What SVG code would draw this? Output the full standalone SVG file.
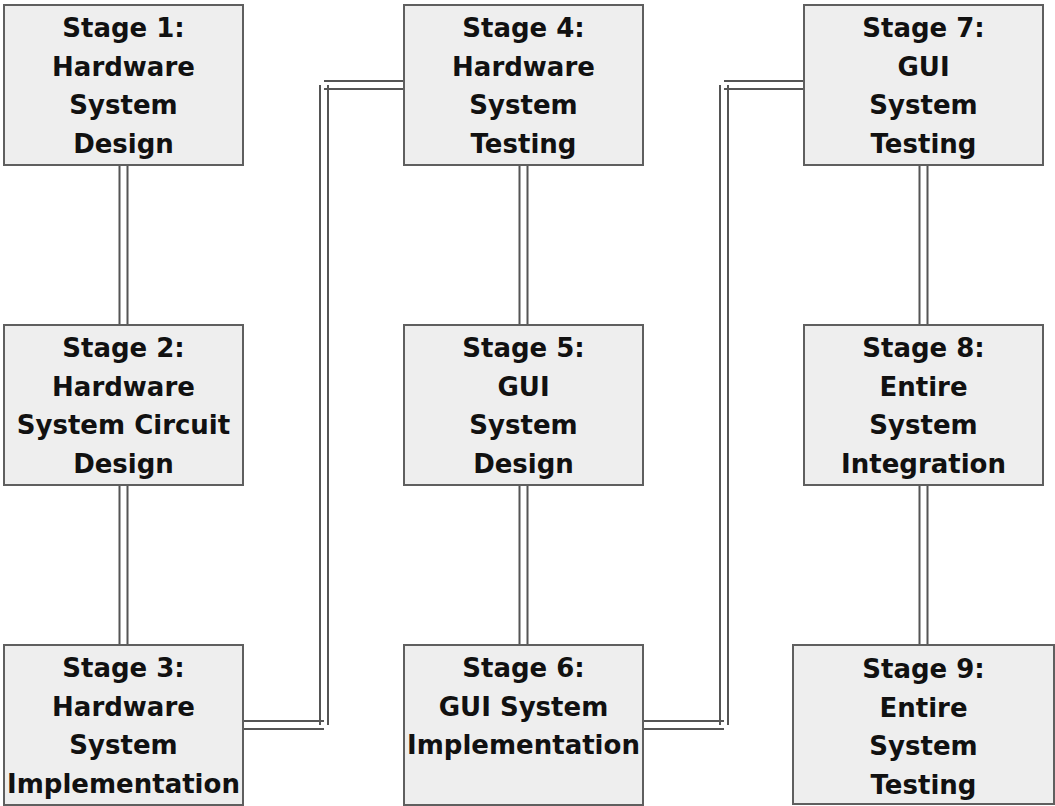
<svg xmlns="http://www.w3.org/2000/svg" width="1055" height="806" viewBox="0 0 1055 806">
<style>
.box{fill:#eeeeee;stroke:#5f5f5f;stroke-width:2}
.lbl{font-family:"DejaVu Sans",Verdana,sans-serif;font-weight:bold;font-size:26px;fill:#111111;text-anchor:middle}
.ln{stroke:#555555;stroke-width:2;fill:none}
</style>
<rect width="1055" height="806" fill="#ffffff"/>
<g id="connectors">
  <g id="c1-2"><path class="ln" d="M119.5,165V325M127.5,165V325"/></g>
  <g id="c2-3"><path class="ln" d="M119.5,485V645M127.5,485V645"/></g>
  <g id="c3-4"><path class="ln" d="M243,721H324M243,729H324M320,725V85M328,725V85M324,81H404M324,89H404"/></g>
  <g id="c4-5"><path class="ln" d="M519.5,165V325M527.5,165V325"/></g>
  <g id="c5-6"><path class="ln" d="M519.5,485V645M527.5,485V645"/></g>
  <g id="c6-7"><path class="ln" d="M643,721H724M643,729H724M720,725V85M728,725V85M724,81H804M724,89H804"/></g>
  <g id="c7-8"><path class="ln" d="M919.5,165V325M927.5,165V325"/></g>
  <g id="c8-9"><path class="ln" d="M919.5,485V645M927.5,485V645"/></g>
</g>
<g id="stage1"><rect class="box" x="4" y="5" width="239" height="160"/>
  <text class="lbl" x="123.5" y="37">Stage 1:</text><text class="lbl" x="123.5" y="76">Hardware</text><text class="lbl" x="123.5" y="114">System</text><text class="lbl" x="123.5" y="153">Design</text></g>
<g id="stage2"><rect class="box" x="4" y="325" width="239" height="160"/>
  <text class="lbl" x="123.5" y="357">Stage 2:</text><text class="lbl" x="123.5" y="396">Hardware</text><text class="lbl" x="123.5" y="434">System Circuit</text><text class="lbl" x="123.5" y="473">Design</text></g>
<g id="stage3"><rect class="box" x="4" y="645" width="239" height="160"/>
  <text class="lbl" x="123.5" y="677">Stage 3:</text><text class="lbl" x="123.5" y="716">Hardware</text><text class="lbl" x="123.5" y="754">System</text><text class="lbl" x="123.5" y="793">Implementation</text></g>
<g id="stage4"><rect class="box" x="404" y="5" width="239" height="160"/>
  <text class="lbl" x="523.5" y="37">Stage 4:</text><text class="lbl" x="523.5" y="76">Hardware</text><text class="lbl" x="523.5" y="114">System</text><text class="lbl" x="523.5" y="153">Testing</text></g>
<g id="stage5"><rect class="box" x="404" y="325" width="239" height="160"/>
  <text class="lbl" x="523.5" y="357">Stage 5:</text><text class="lbl" x="523.5" y="396">GUI</text><text class="lbl" x="523.5" y="434">System</text><text class="lbl" x="523.5" y="473">Design</text></g>
<g id="stage6"><rect class="box" x="404" y="645" width="239" height="160"/>
  <text class="lbl" x="523.5" y="677">Stage 6:</text><text class="lbl" x="523.5" y="716">GUI System</text><text class="lbl" x="523.5" y="754">Implementation</text></g>
<g id="stage7"><rect class="box" x="804" y="5" width="239" height="160"/>
  <text class="lbl" x="923.5" y="37">Stage 7:</text><text class="lbl" x="923.5" y="76">GUI</text><text class="lbl" x="923.5" y="114">System</text><text class="lbl" x="923.5" y="153">Testing</text></g>
<g id="stage8"><rect class="box" x="804" y="325" width="239" height="160"/>
  <text class="lbl" x="923.5" y="357">Stage 8:</text><text class="lbl" x="923.5" y="396">Entire</text><text class="lbl" x="923.5" y="434">System</text><text class="lbl" x="923.5" y="473">Integration</text></g>
<g id="stage9"><rect class="box" x="793" y="645" width="261" height="159"/>
  <text class="lbl" x="923.5" y="678">Stage 9:</text><text class="lbl" x="923.5" y="717">Entire</text><text class="lbl" x="923.5" y="755">System</text><text class="lbl" x="923.5" y="794">Testing</text></g>
</svg>
